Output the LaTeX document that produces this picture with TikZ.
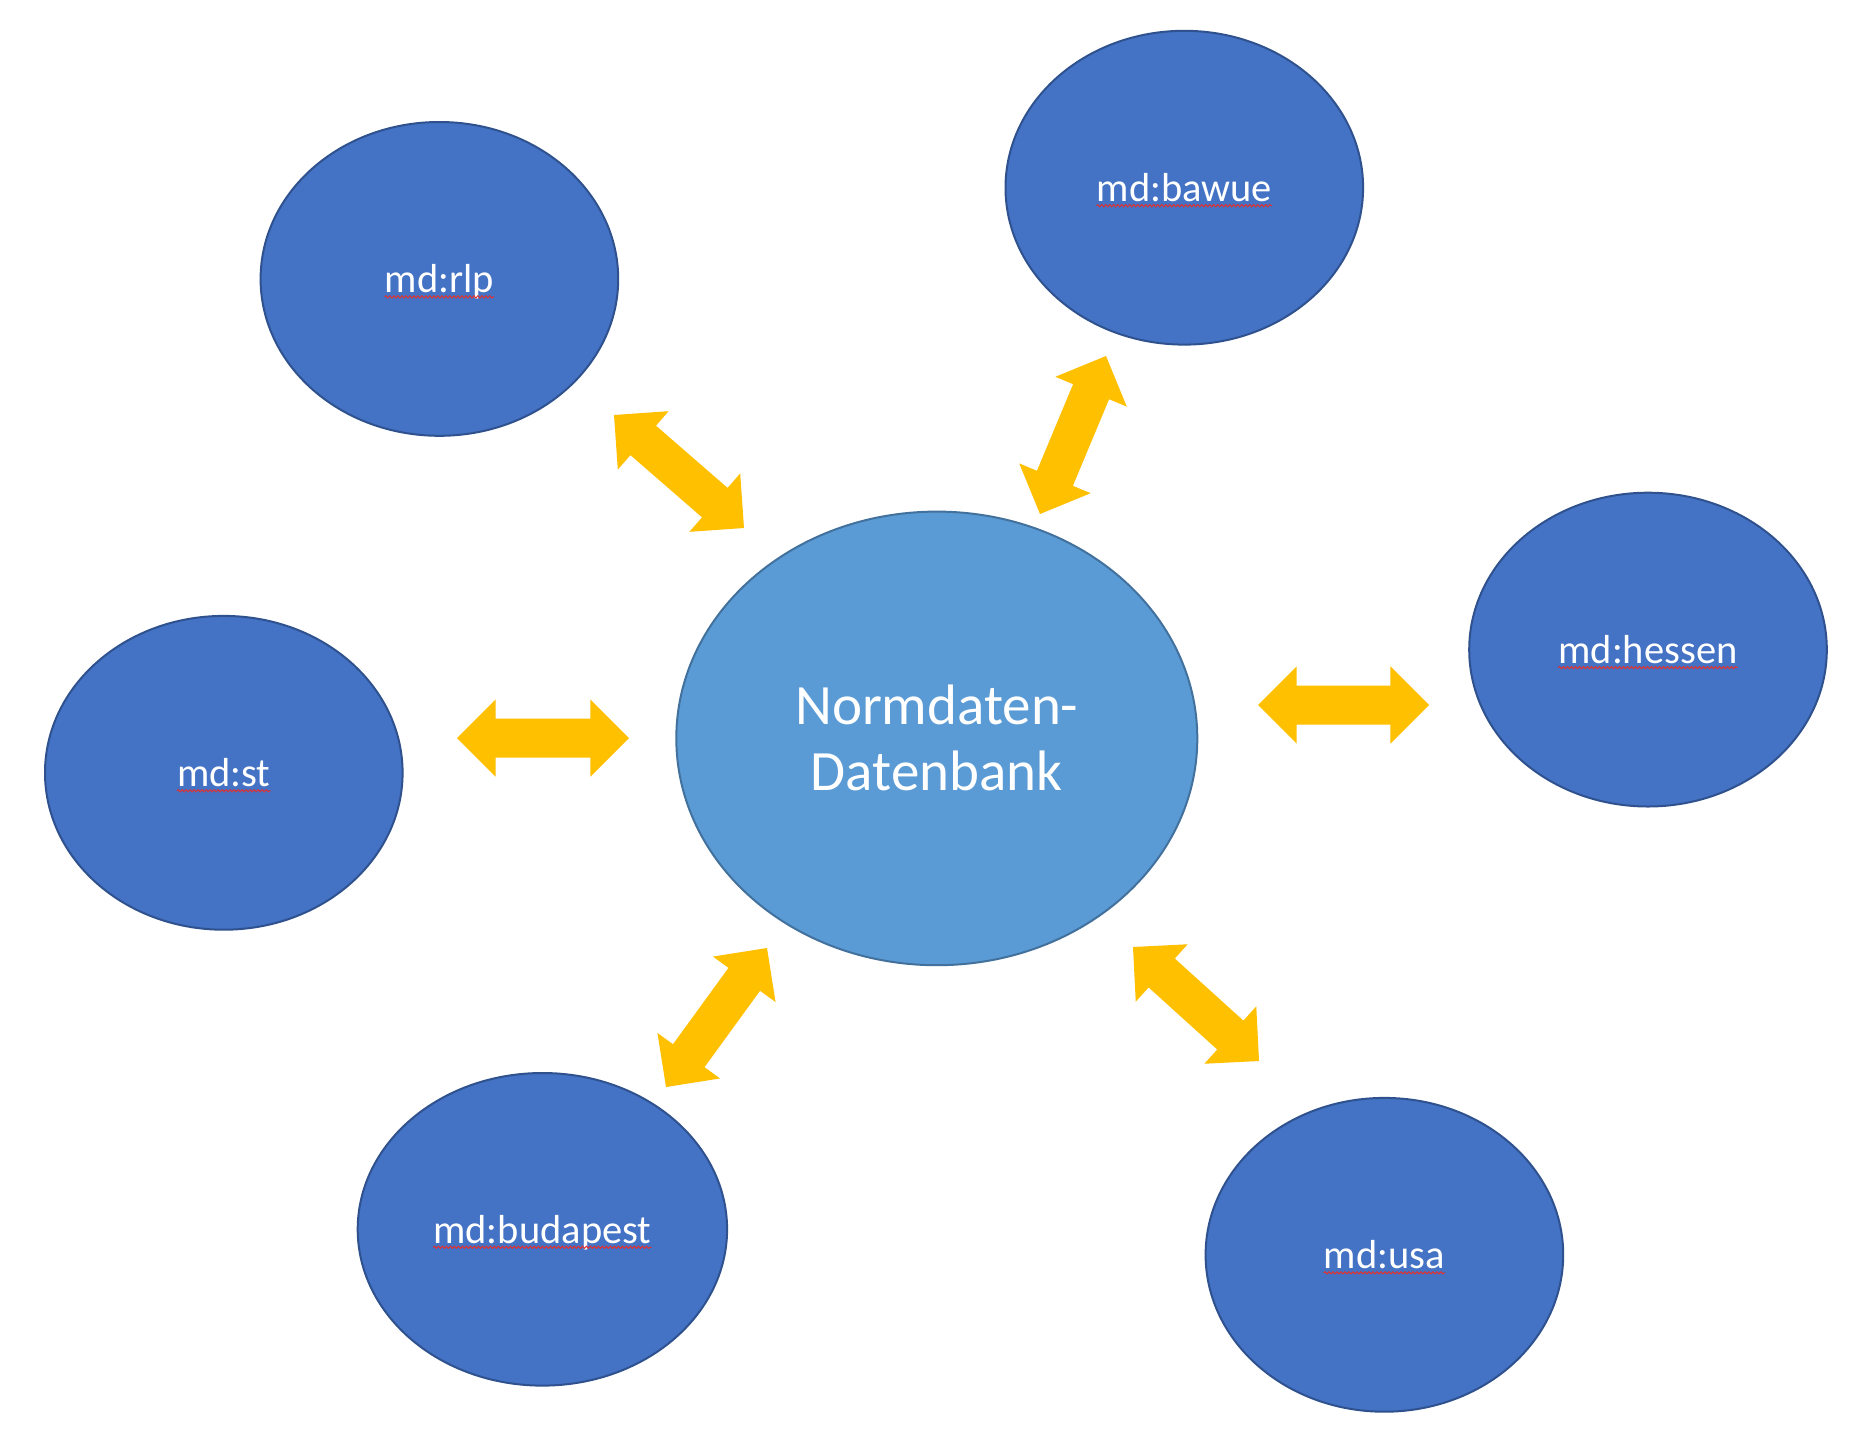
\documentclass[tikz,border=0pt]{standalone}
\usepackage{fontspec}
\setmainfont{Carlito}
\usetikzlibrary{shapes.geometric,calc,decorations.pathmorphing}
\definecolor{nodeblue}{HTML}{4472C4}
\definecolor{nodeedge}{HTML}{2F528F}
\definecolor{centerblue}{HTML}{5B9BD5}
\definecolor{centeredge}{HTML}{41719C}
\definecolor{arrowgold}{HTML}{FFC000}
\definecolor{squigred}{HTML}{E03030}
\tikzset{
  outer/.style={ellipse, fill=nodeblue, draw=nodeedge, line width=2pt,
    minimum width=357.6pt, minimum height=313.8pt, inner sep=0pt},
  hub/.style={ellipse, fill=centerblue, draw=centeredge, line width=2pt,
    minimum width=521pt, minimum height=453.6pt, inner sep=0pt,
    text=white, align=center, font=\fontsize{57}{66}\selectfont},
  lbl/.style={inner sep=0pt, text=white, font=\fontsize{40.5}{48}\selectfont, anchor=base},
  squig/.style={draw=squigred, line width=1pt,
    decorate, decoration={snake, amplitude=1.1pt, segment length=4pt}},
  blockarr/.style={fill=arrowgold}
}
\newcommand\dblarrow[2]{%
  \coordinate (#1-h) at ($(#1)!38.7pt!(#2)$);
  \coordinate (#2-h) at ($(#2)!38.7pt!(#1)$);
  \fill[blockarr] (#1)
    -- ($(#1-h)!38.7pt!90:(#2)$) -- ($(#1-h)!19.5pt!90:(#2)$)
    -- ($(#2-h)!19.5pt!-90:(#1)$) -- ($(#2-h)!38.7pt!-90:(#1)$)
    -- (#2)
    -- ($(#2-h)!38.7pt!90:(#1)$) -- ($(#2-h)!19.5pt!90:(#1)$)
    -- ($(#1-h)!19.5pt!-90:(#2)$) -- ($(#1-h)!38.7pt!-90:(#2)$)
    -- cycle;
}
\newcommand\ulsquig[1]{%
  \draw[squig] ([yshift=-4pt]#1.base west) -- ([yshift=-4pt]#1.base east);
}
\begin{document}
\begin{tikzpicture}[x=1pt,y=-1pt]
\useasboundingbox (0,0) rectangle (1857,1449);
\fill[white] (0,0) rectangle (1857,1449);

% outer nodes
\node[outer] (rlp) at (439.4,278.9) {};
\node[outer] (bawue) at (1184.3,187.7) {};
\node[outer] (hessen) at (1648.0,649.6) {};
\node[outer] (st) at (223.8,772.8) {};
\node[outer, minimum width=369.4pt, minimum height=312.6pt] (budapest) at (542.4,1229.3) {};
\node[outer] (usa) at (1384.4,1254.8) {};

% hub
\node[hub] (hub) at (936.8,738.4) {Normdaten-\\Datenbank};

% labels
\node[lbl] (rlp-t) at ([yshift=-14pt]rlp.center) {md:rlp};
\node[lbl] (bawue-t) at ([yshift=-14pt]bawue.center) {md:bawue};
\node[lbl] (hessen-t) at ([yshift=-14pt]hessen.center) {md:hessen};
\node[lbl] (st-t) at ([yshift=-14pt]st.center) {md:st};
\node[lbl] (budapest-t) at ([yshift=-14pt]budapest.center) {md:budapest};
\node[lbl] (usa-t) at ([yshift=-14pt]usa.center) {md:usa};
\ulsquig{rlp-t}
\ulsquig{bawue-t}
\ulsquig{hessen-t}
\ulsquig{st-t}
\ulsquig{budapest-t}
\ulsquig{usa-t}

% arrow end points
\coordinate (a1) at (614,415);   \coordinate (b1) at (744,528);
\coordinate (a2) at (1106,356);  \coordinate (b2) at (1040,514);
\coordinate (a3) at (1258,705);  \coordinate (b3) at (1429,705);
\coordinate (a4) at (457,738);   \coordinate (b4) at (629,738);
\coordinate (a5) at (767,948);   \coordinate (b5) at (666,1087);
\coordinate (a6) at (1133,947);  \coordinate (b6) at (1259,1061);
\dblarrow{a1}{b1}
\dblarrow{a2}{b2}
\dblarrow{a3}{b3}
\dblarrow{a4}{b4}
\dblarrow{a5}{b5}
\dblarrow{a6}{b6}
\end{tikzpicture}
\end{document}
